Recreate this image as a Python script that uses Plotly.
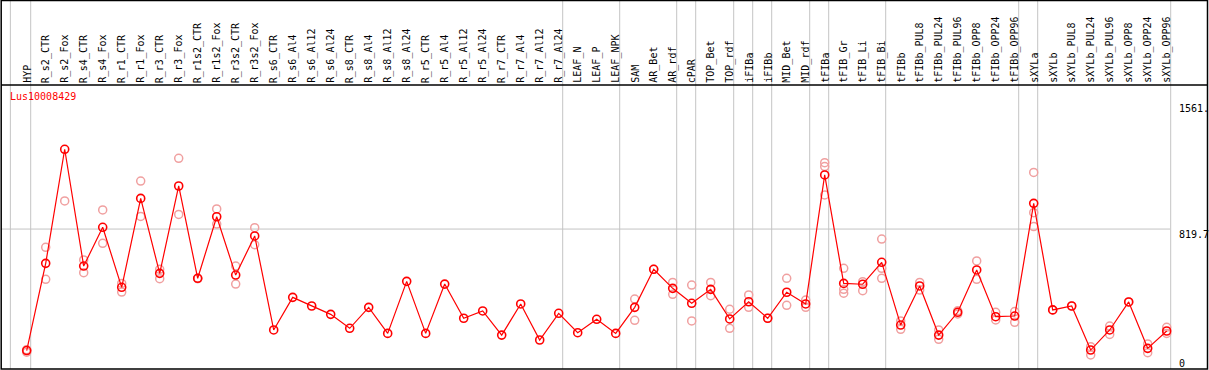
import plotly.graph_objects as go

W, H = 1209, 370

samples = ["HYP", "R_s2_CTR", "R_s2_Fox", "R_s4_CTR", "R_s4_Fox", "R_r1_CTR", "R_r1_Fox",
           "R_r3_CTR", "R_r3_Fox", "R_r1s2_CTR", "R_r1s2_Fox", "R_r3s2_CTR", "R_r3s2_Fox",
           "R_s6_CTR", "R_s6_Al4", "R_s6_Al12", "R_s6_Al24", "R_s8_CTR", "R_s8_Al4",
           "R_s8_Al12", "R_s8_Al24", "R_r5_CTR", "R_r5_Al4", "R_r5_Al12", "R_r5_Al24",
           "R_r7_CTR", "R_r7_Al4", "R_r7_Al12", "R_r7_Al24", "LEAF_N", "LEAF_P", "LEAF_NPK",
           "SAM", "AR_Bet", "AR_rdf", "cPAR", "TOP_Bet", "TOP_rdf", "iFIBa", "iFIBb",
           "MID_Bet", "MID_rdf", "tFIBa", "tFIB_Gr", "tFIB_Li", "tFIB_Bi", "tFIBb",
           "tFIBb_PUL8", "tFIBb_PUL24", "tFIBb_PUL96", "tFIBb_OPP8", "tFIBb_OPP24",
           "tFIBb_OPP96", "sXYLa", "sXYLb", "sXYLb_PUL8", "sXYLb_PUL24", "sXYLb_PUL96",
           "sXYLb_OPP8", "sXYLb_OPP24", "sXYLb_OPP96"]

means = [105, 618, 1289, 602, 830, 477, 1000, 559, 1073, 530, 892, 549, 779,
         226, 418, 367, 318, 236, 359, 206, 512, 206, 496, 295, 338,
         196, 379, 167, 324, 210, 289, 206,
         359, 583, 471, 383, 465, 291, 392, 295, 448, 379,
         1138, 500, 495, 624, 255,
         485, 196, 330, 579, 304, 308,
         971, 344, 367, 108, 226, 391, 118, 220]

replicates = [[95, 110], [712, 524], [985], [638, 563], [932, 736], [500, 449], [1102, 894],
              [583, 528], [1236, 906], [530, 528], [938, 849], [602, 496], [828, 728],
              [], [], [], [], [], [], [], [], [], [], [], [],
              [], [], [], [], [], [], [],
              [408, 283], [583], [506, 436], [490, 279], [506, 428], [348, 236],
              [432, 359], [295], [530, 371], [402, 359],
              [1210, 1187, 1020], [589, 465, 442], [510, 457], [761, 589, 530], [279, 230],
              [506, 461], [226, 171], [339, 320], [632, 524], [330, 285], [334, 271],
              [1153, 916, 834], [344], [367], [128, 79], [249, 200], [391], [144, 92], [242, 206]]

group_ends = [0, 28, 31, 34, 35, 37, 38, 39, 41, 42, 45, 52, 53, 60]
axis_ticks = ["1561.", "819.7", "0"]
axis_tick_values = [1561, 819.7, 0]
gene = "Lus10008429"

# pixel layout helpers
X0, DX = 26.7, 19.0          # pixel x of first sample, spacing
Y0, DY = 368.4, 0.170        # pixel y of value 0, pixels per unit


def px2paper_x(px):
    return px / W


def px2paper_y(py):
    return 1 - py / H


xs = list(range(len(samples)))
rep_x, rep_y = [], []
for i, r in enumerate(replicates):
    for v in r:
        rep_x.append(i)
        rep_y.append(v)

fig = go.Figure()
fig.add_trace(go.Scatter(x=rep_x, y=rep_y, mode="markers",
                         marker=dict(symbol="circle-open", size=8, color="#f0a0a0",
                                     line=dict(width=1.5, color="#f0a0a0")),
                         hoverinfo="skip"))
fig.add_trace(go.Scatter(x=xs, y=means, mode="lines+markers",
                         line=dict(color="red", width=1.2),
                         marker=dict(symbol="circle-open", size=8, color="red",
                                     line=dict(width=1.6, color="red"))))

shapes = []
grey = "#c4c4c4"
# vertical group separators
sep_x = [-0.86] + [g + 0.21 for g in group_ends]
for sx in sep_x:
    shapes.append(dict(type="line", xref="x", yref="paper", x0=sx, x1=sx,
                       y0=px2paper_y(369), y1=px2paper_y(0.5),
                       line=dict(color=grey, width=1), layer="below"))
# horizontal grid line at middle tick
shapes.append(dict(type="line", xref="paper", yref="y", x0=px2paper_x(1), x1=px2paper_x(1170),
                   y0=axis_tick_values[1], y1=axis_tick_values[1],
                   line=dict(color=grey, width=1), layer="below"))
# header line
shapes.append(dict(type="line", xref="paper", yref="paper", x0=px2paper_x(1), x1=px2paper_x(1207.5),
                   y0=px2paper_y(85), y1=px2paper_y(85), line=dict(color="black", width=1.5)))
# outer border
shapes.append(dict(type="rect", xref="paper", yref="paper", x0=px2paper_x(1.2), x1=px2paper_x(1207.5),
                   y0=px2paper_y(369), y1=px2paper_y(0.6), line=dict(color="black", width=1.5)))

annotations = []
mono = "DejaVu Sans Mono"
for i, s in enumerate(samples):
    annotations.append(dict(x=i, xref="x", y=px2paper_y(84), yref="paper", text=s,
                            textangle=-90, showarrow=False, xanchor="center", yanchor="bottom",
                            font=dict(family=mono, size=10, color="black"), borderpad=0))
annotations.append(dict(x=px2paper_x(9), xref="paper", y=px2paper_y(96), yref="paper", text=gene,
                        showarrow=False, xanchor="left", yanchor="middle",
                        font=dict(family=mono, size=10, color="red"), borderpad=0))
tick_tops = [103, 228.5, 358]
for t, top in zip(axis_ticks, tick_tops):
    annotations.append(dict(x=px2paper_x(1178), xref="paper", y=px2paper_y(top - 1), yref="paper",
                            text=t, showarrow=False, xanchor="left", yanchor="top",
                            font=dict(family=mono, size=10, color="black"), borderpad=0))

x_lo = (0 - X0) / DX
x_hi = (W - X0) / DX
y_lo = (Y0 - H) / DY
y_hi = Y0 / DY

fig.update_layout(width=W, height=H, margin=dict(l=0, r=0, t=0, b=0),
                  paper_bgcolor="white", plot_bgcolor="white", showlegend=False,
                  xaxis=dict(range=[x_lo, x_hi], visible=False, fixedrange=True),
                  yaxis=dict(range=[y_lo, y_hi], visible=False, fixedrange=True),
                  shapes=shapes, annotations=annotations)

fig.write_html("out.html", config={"displayModeBar": False},
               post_script="document.body.style.margin='0px';document.body.style.overflow='hidden';")
